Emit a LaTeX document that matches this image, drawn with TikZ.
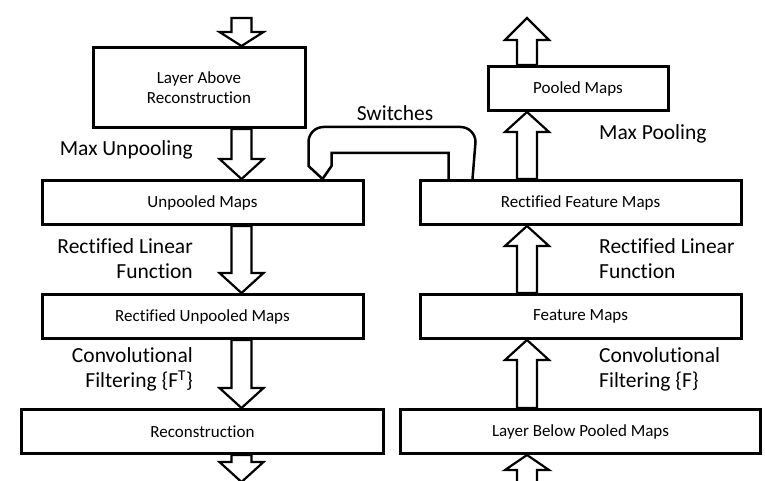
\documentclass[tikz,border=0pt]{standalone}
\usepackage{fontspec}
\setmainfont[Ligatures=CommonOff]{Carlito}
\usetikzlibrary{positioning,calc}
\newcommand{\fatdown}[3][20pt]{%
  \draw[fat] let \p1=(#2), \p2=(#3) in
    (\x2-10pt,\y1) -- (\x2-10pt,\y2+#1) -- (\x2-22pt,\y2+#1) -- (\x2,\y2)
    -- (\x2+22pt,\y2+#1) -- (\x2+10pt,\y2+#1) -- (\x2+10pt,\y1) -- cycle;}
\newcommand{\fatup}[3][20pt]{%
  \draw[fat] let \p1=(#2), \p2=(#3) in
    (\x2-10pt,\y1) -- (\x2-10pt,\y2-#1) -- (\x2-22pt,\y2-#1) -- (\x2,\y2)
    -- (\x2+22pt,\y2-#1) -- (\x2+10pt,\y2-#1) -- (\x2+10pt,\y1) -- cycle;}
\begin{document}
\begin{tikzpicture}[x=1pt,y=1pt,
  box/.style={draw,line width=3pt,minimum height=44pt,inner sep=2pt,
              font=\fontsize{17}{20}\selectfont},
  lbl/.style={inner sep=0pt,font=\fontsize{21.5}{25}\selectfont},
  fat/.style={line width=2.2pt,line join=miter},
  switch/.style={line width=2.5pt}
]
\path[use as bounding box,clip] (0,0) rectangle (765,481);
\coordinate (lc) at (241.5,0);
\coordinate (rc) at (527,0);
\node[box,minimum width=321pt] (unpooled) at (202.5,278.5) {Unpooled Maps};
\node[box,minimum width=321pt,below=67pt of unpooled] (runpooled) {Rectified Unpooled Maps};
\node[box,minimum width=362pt,below=68pt of runpooled] (recon) {Reconstruction};
\node[box,minimum width=212pt,minimum height=80pt,align=center,
      above=50pt of unpooled,xshift=-3.5pt] (above) {Layer Above\\Reconstruction};
\node[box,minimum width=321pt] (rfeat) at (580.5,278.5) {Rectified Feature Maps};
\node[box,minimum width=321pt,below=67pt of rfeat] (feat) {Feature Maps};
\node[box,minimum width=360pt,below=68pt of feat] (lbelow) {Layer Below Pooled Maps};
\node[box,minimum width=180pt,above=67pt of rfeat,xshift=-2.5pt] (pooled) {Pooled Maps};
\node[lbl,anchor=east] (unpool) at (193,331) {Max Unpooling};
\node[lbl,anchor=east,align=right] (relul) at (193,222.5) {Rectified Linear\\Function};
\node[lbl,anchor=east,align=right] (convl) at (193,111.5) {Convolutional\\Filtering \{F\textsuperscript{T}\}};
\node[lbl] (sw) at (395,368) {Switches};
\node[lbl,anchor=west] (pool) at (599,347) {Max Pooling};
\node[lbl,anchor=west,align=left] (relur) at (599,222.5) {Rectified Linear\\Function};
\node[lbl,anchor=west,align=left] (convr) at (599,111.5) {Convolutional\\Filtering \{F\}};
\coordinate (topin) at (241.5,463);
\coordinate (botout) at (241.5,-1);
\coordinate (botin) at (527,-5);
\coordinate (topout) at (527,463);
\fatdown[14pt]{topin}{above.north -| lc}
\fatdown{above.south -| lc}{unpooled.north -| lc}
\fatdown{unpooled.south -| lc}{runpooled.north -| lc}
\fatdown{runpooled.south -| lc}{recon.north -| lc}
\fatdown{recon.south -| lc}{botout}
\fatup[15pt]{botin}{lbelow.south -| rc}
\fatup{lbelow.north -| rc}{feat.south -| rc}
\fatup{feat.north -| rc}{rfeat.south -| rc}
\fatup{rfeat.north -| rc}{pooled.south -| rc}
\fatup[22pt]{pooled.north -| rc}{topout}
\coordinate (swtip) at ($(unpooled.north east)+(-42,0)$);
\coordinate (swin) at ($(rfeat.north west)+(30,0)$);
\coordinate (swout) at ($(rfeat.north west)+(54,0)$);
\draw[switch] (swin) -- ++(0,26) -- ++(-117,0) -- ++(0,-13) -- (swtip) -- ++(-14,13) -- ++(0,24)
  arc[start angle=180,end angle=90,radius=15pt] -- ++(137,0)
  arc[start angle=90,end angle=0,radius=15pt] -- (swout);
\end{tikzpicture}
\end{document}
